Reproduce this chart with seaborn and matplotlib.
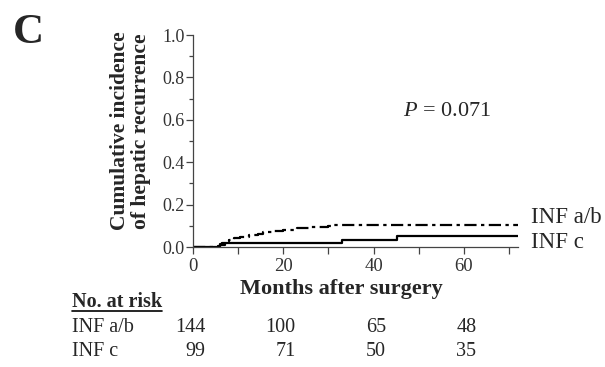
import numpy as np
import pandas as pd
import matplotlib
matplotlib.use("Agg")
import matplotlib.pyplot as plt
from matplotlib.lines import Line2D
import seaborn as sns

# ---------------- data ----------------
ab_times = [0, 5.5, 6, 6.5, 7, 8, 9, 10.5, 12.5, 14.5, 15.5, 17.5, 20, 23, 26, 30, 31, 72]
ab_cum = [0, 0.007, 0.014, 0.021, 0.028, 0.035, 0.042, 0.049, 0.056, 0.063, 0.07, 0.077,
          0.082, 0.088, 0.093, 0.100, 0.105, 0.105]
c_times = [0, 6, 7, 33, 45.3, 72]
c_cum = [0, 0.008, 0.017, 0.033, 0.052, 0.052]

groups = ["INF a/b", "INF c"]
risk_times = [0, 20, 40, 60]
risk_ab = [144, 100, 65, 48]
risk_c = [99, 71, 50, 35]
p_text = "= 0.071"
x_ticks = [0, 20, 40, 60]
y_ticks = [0.0, 0.2, 0.4, 0.6, 0.8, 1.0]

SERIF = ["Liberation Serif", "DejaVu Serif"]
sns.set_style("ticks")
plt.rcParams["font.family"] = SERIF
plt.rcParams["mathtext.fontset"] = "custom"
plt.rcParams["mathtext.it"] = "Liberation Serif:italic"
plt.rcParams["mathtext.rm"] = "Liberation Serif"

df_ab = pd.DataFrame({"t": ab_times, "cum": ab_cum})
df_c = pd.DataFrame({"t": c_times, "cum": c_cum})

fig = plt.figure(figsize=(6.05, 3.67), dpi=100)
W, H = 605, 367
ax = fig.add_axes([193 / W, 120 / H, 325 / W, 212 / H])

sns.lineplot(data=df_ab, x="t", y="cum", ax=ax, estimator=None, sort=False,
             drawstyle="steps-post", color="black", lw=1.6,
             dashes=False, linestyle=(0, (5.5, 2.0, 1.5, 2.0)))
sns.lineplot(data=df_c, x="t", y="cum", ax=ax, estimator=None, sort=False,
             drawstyle="steps-post", color="black", lw=1.6, solid_capstyle="butt")

ax.set_xlim(0, 72)
ax.set_ylim(0, 1.0)
ax.set_xticks(x_ticks)
ax.set_xticklabels([str(v) for v in x_ticks], fontsize=13.5, family=SERIF, color="#333")
ax.set_xticks(np.arange(10, 80, 20), minor=True)
ax.set_yticks(y_ticks)
ax.set_yticklabels([f"{v:.1f}" for v in y_ticks], fontsize=13, family=SERIF, color="#333")
ax.set_yticks(np.arange(0.1, 1.0, 0.2), minor=True)
ax.tick_params(axis="y", which="major", length=5, width=0.9, pad=1, colors="#444")
ax.tick_params(axis="y", which="minor", length=3, width=0.9, colors="#444")
ax.tick_params(axis="x", which="major", length=5, width=0.9, pad=3, colors="#444")
ax.tick_params(axis="x", which="minor", length=5, width=0.9, colors="#444")
for lab in ax.get_xticklabels() + ax.get_yticklabels():
    lab.set_color("#333")
for s in ["top", "right"]:
    ax.spines[s].set_visible(False)
for s in ["left", "bottom"]:
    ax.spines[s].set_color("#444")
    ax.spines[s].set_linewidth(0.9)

ax.set_xlabel("Months after surgery", fontsize=16, fontweight="bold")
ax.xaxis.set_label_coords((341 - 193) / 325, (247 - 279) / 212)
ax.set_ylabel("Cumulative incidence\nof hepatic recurrence", fontsize=15.5,
              fontweight="bold", linespacing=1.1)
ax.yaxis.set_label_coords((151 - 193) / 325, (247 - 131) / 212)

ax.text(56.2, 0.64, r"$P$ " + p_text, fontsize=16, ha="center", va="center")

ax.text(74.8, 0.137, groups[0], fontsize=16.5, ha="left", va="center", clip_on=False)
ax.text(74.8, 0.02, groups[1], fontsize=16.5, ha="left", va="center", clip_on=False)

fig.text(28 / W, 1 - 33 / H, "C", fontsize=31, fontweight="bold", ha="center", va="center")

# risk table
hdr = fig.text(71.7 / W, 1 - 302 / H, "No. at risk", fontsize=14.5, fontweight="bold",
               ha="left", va="center")
row_y = [328, 352]
for name, vals, yy in zip(groups, [risk_ab, risk_c], row_y):
    fig.text(71.7 / W, 1 - yy / H, name, fontsize=14.5, ha="left", va="center")
    for t, v in zip(risk_times, vals):
        ax.annotate(str(v), xy=(t, 1 - yy / H), xycoords=("data", "figure fraction"),
                    xytext=(9, 0), textcoords="offset points", fontsize=14.5,
                    ha="right", va="center", annotation_clip=False)

fig.canvas.draw()
bb = hdr.get_window_extent()
inv = fig.transFigure.inverted()
(x0, y0) = inv.transform((bb.x0, bb.y0))
(x1, _) = inv.transform((bb.x1, bb.y0))
fig.add_artist(Line2D([x0, x1], [y0 + 0.004, y0 + 0.004], transform=fig.transFigure,
                      color="black", lw=1.2))

fig.savefig("out.png", dpi=100)
